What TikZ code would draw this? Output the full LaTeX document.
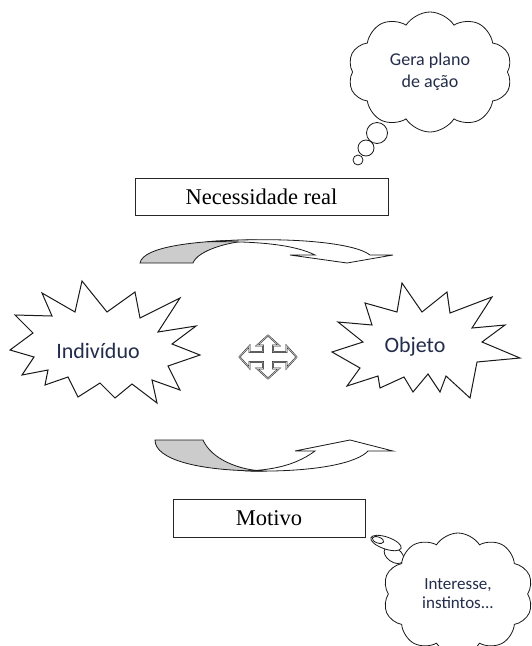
\documentclass[tikz,border=0pt]{standalone}
\usepackage{fontspec}
\setmainfont{Liberation Serif}
\newfontfamily\calib{Carlito}
\usetikzlibrary{shapes.symbols}
\definecolor{sanstxt}{RGB}{35,45,75}
\begin{document}
\begin{tikzpicture}[x=1pt,y=-1pt,line join=miter,
  labelbox/.style={draw=black!85,line width=0.9pt,inner sep=0pt,fill=white},
  starshape/.style={draw=black!90,line width=1pt,fill=white},
  thought/.style={cloud,draw=black!90,line width=0.8pt,fill=white,cloud puffs=10,cloud puff arc=115,inner sep=0pt},
  bubble/.style={draw=black!90,line width=0.8pt,fill=white},
  bentarrow/.style={draw=black!90,line width=0.8pt},
  cross/.style={draw=black!85,double=gray!45,double distance=0.7pt,line width=0.5pt,fill=white},
  sanslabel/.style={font=\calib\fontsize{22}{26}\selectfont,text=sanstxt},
  cloudlabel/.style={align=center,text=sanstxt}]
\useasboundingbox (0,0) rectangle (531,646);
\clip (0,0) rectangle (531,646);

% top thought cloud with tail bubbles
\draw[bubble] (358,160) circle[radius=5];
\draw[bubble] (366,148) circle[radius=8];
\draw[bubble] (377,133) circle[radius=10.5];
\node[thought,minimum width=164pt,minimum height=120pt,aspect=1.37,
  cloudlabel,font=\calib\fontsize{18}{22}\selectfont] (c1) at (430,72) {Gera plano\\de ação};

% Necessidade real box
\node[labelbox,minimum width=253pt,minimum height=37pt,
  font=\fontsize{22.5}{26}\selectfont] (nec) at (261.5,196.5) {Necessidade real};

% top curved arrow
\draw[bentarrow,fill=gray!40] (140,263) .. controls (143,246) and (200,240) .. (257,240)
  .. controls (230,241) and (198,250) .. (193,263) -- cycle;
\draw[bentarrow,fill=white] (207,241.7) .. controls (290,236) and (355,243) .. (370,255)
  -- (393,255) -- (347,263) -- (290,255) -- (315,255)
  .. controls (295,245) and (260,241) .. (207,241.7) -- cycle;

% Individuo star
\draw[starshape] (82,281) -- (107,312) -- (135,292) -- (140,318) -- (180,298) -- (158,332)
  -- (196,326) -- (172,344) -- (200,355) -- (168,366) -- (180,390) -- (152,380)
  -- (157,403) -- (132,384) -- (115,398) -- (100,383) -- (78,397) -- (68,377)
  -- (45,385) -- (48,370) -- (22,375) -- (34,357) -- (10,350) -- (33,333)
  -- (15,315) -- (52,316) -- (42,293) -- (75,312) -- cycle;
\node[sanslabel] (ind) at (98,351) {Indivíduo};

% Objeto star
\draw[starshape] (402,283) -- (422,312) -- (447,292) -- (450,313) -- (492,297) -- (472,328)
  -- (505,325) -- (482,342) -- (520,358) -- (477,362) -- (470,398) -- (446,376)
  -- (440,392) -- (428,374) -- (413,392) -- (404,377) -- (380,388) -- (378,376)
  -- (347,386) -- (360,368) -- (332,352) -- (363,342) -- (338,322) -- (372,325)
  -- (365,303) -- (397,312) -- cycle;
\node[sanslabel] (obj) at (415,347) {Objeto};

% four-way arrow
\draw[cross] (268,335.5) -- (279,345.5) -- (273,345.5) -- (273,352) -- (286.5,352) -- (286.5,346)
  -- (296.5,357) -- (286.5,368) -- (286.5,362) -- (273,362) -- (273,368.5) -- (279,368.5)
  -- (268,378.5) -- (257,368.5) -- (263,368.5) -- (263,362) -- (249.5,362) -- (249.5,368)
  -- (239.5,357) -- (249.5,346) -- (249.5,352) -- (263,352) -- (263,345.5) -- (257,345.5) -- cycle;
\coordinate (crossc) at (268,357);

% bottom curved arrow
\draw[bentarrow,fill=gray!40] (155,440) -- (203,440) .. controls (212,460) and (240,470) .. (263,471)
  .. controls (200,471) and (155,460) .. (155,440) -- cycle;
\draw[bentarrow,fill=white] (245,471) .. controls (320,472.5) and (358,462) .. (368,451)
  -- (393,451) -- (350,440) -- (295,451) -- (315,451)
  .. controls (300,462) and (280,470) .. (245,471) -- cycle;

% Motivo box
\node[labelbox,minimum width=192pt,minimum height=38pt,
  font=\fontsize{22.5}{26}\selectfont] (mot) at (269,518) {Motivo};

% bottom thought cloud with tail
\draw[bubble,rotate around={-35:(394,555)}] (394,555) ellipse[x radius=11,y radius=7];
\draw[bubble,rotate around={-19:(386,543)}] (386,543) ellipse[x radius=16,y radius=6];
\draw[bubble,rotate around={-19:(378,540)}] (378,540) ellipse[x radius=6,y radius=3];
\node[thought,minimum width=150pt,minimum height=122pt,aspect=1.23,
  cloudlabel,font=\calib\fontsize{17}{19}\selectfont] (c2) at (458,594) {Interesse,\\instintos...};
\end{tikzpicture}
\end{document}
